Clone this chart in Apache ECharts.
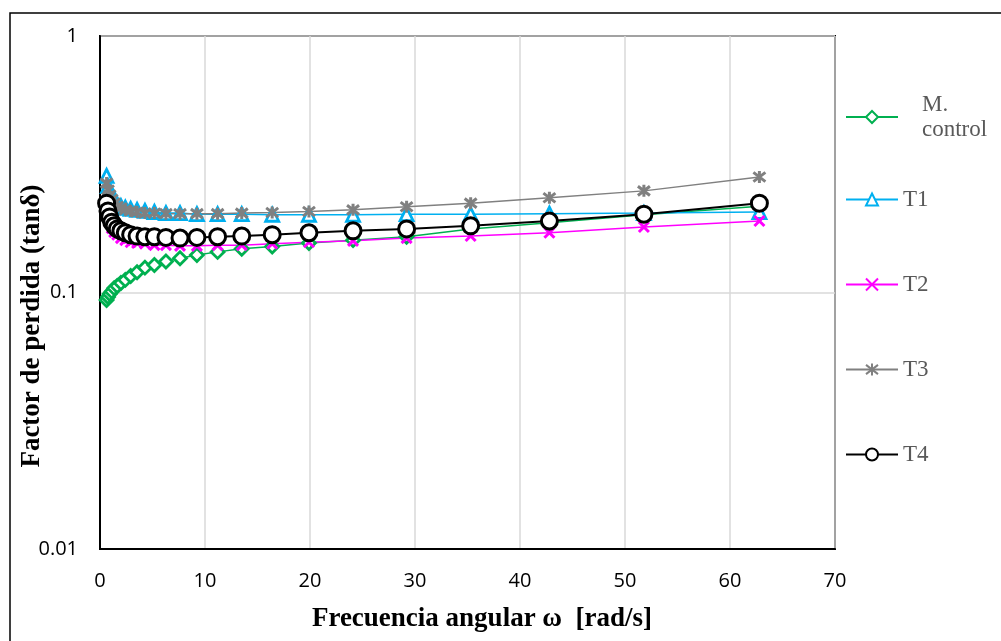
<!DOCTYPE html>
<html><head><meta charset="utf-8">
<script src="https://cdn.jsdelivr.net/npm/echarts@6/dist/echarts.min.js"></script>
<style>html,body{margin:0;padding:0;background:#fff}#c{width:1001px;height:641px}</style>
</head><body><div id="c"></div>
<script>
// angular frequency (rad/s)
const freq = [0.628, 0.762, 0.923, 1.12, 1.35, 1.64, 1.99, 2.41, 2.92, 3.53, 4.28, 5.18, 6.28, 7.62, 9.23, 11.2, 13.5, 16.4, 19.9, 24.1, 29.2, 35.3, 42.8, 51.8, 62.8];
const seriesNames = ['M. control', 'T1', 'T2', 'T3', 'T4'];
const mControl = [0.0935, 0.096, 0.0987, 0.101, 0.104, 0.106, 0.109, 0.112, 0.116, 0.120, 0.125, 0.128, 0.132, 0.136, 0.140, 0.144, 0.148, 0.151, 0.156, 0.160, 0.165, 0.177, 0.187, 0.201, 0.217];
const t1 = [0.285, 0.260, 0.247, 0.236, 0.227, 0.221, 0.217, 0.214, 0.212, 0.210, 0.208, 0.206, 0.204, 0.204, 0.202, 0.202, 0.202, 0.201, 0.201, 0.201, 0.202, 0.202, 0.203, 0.204, 0.206];
const t2 = [0.227, 0.202, 0.188, 0.178, 0.172, 0.168, 0.163, 0.160, 0.157, 0.156, 0.155, 0.153, 0.153, 0.152, 0.152, 0.153, 0.153, 0.155, 0.157, 0.159, 0.163, 0.166, 0.171, 0.180, 0.190];
const t3 = [0.267, 0.251, 0.240, 0.231, 0.223, 0.217, 0.214, 0.210, 0.208, 0.206, 0.204, 0.204, 0.203, 0.203, 0.203, 0.203, 0.204, 0.205, 0.207, 0.210, 0.216, 0.223, 0.234, 0.249, 0.282];
const t4 = [0.223, 0.208, 0.197, 0.188, 0.182, 0.177, 0.174, 0.171, 0.168, 0.166, 0.165, 0.165, 0.164, 0.163, 0.164, 0.165, 0.166, 0.168, 0.171, 0.174, 0.177, 0.182, 0.190, 0.202, 0.223];
const xTicks = [0, 10, 20, 30, 40, 50, 60, 70];
const yTicks = [0.01, 0.1, 1];

const pair = arr => freq.map((f, i) => [f, arr[i]]);
const X_PATH = 'path://M0,0L10,10M10,0L0,10';
const STAR_PATH = 'path://M0,0L10,10M10,0L0,10M5,-1.5L5,11.5';

function mk(name, data, color, symbol, size, lw, bw) {
  return {
    name, type: 'line', data: pair(data), showAllSymbol: true,
    symbol, symbolSize: size,
    lineStyle: { color, width: lw },
    itemStyle: { color: '#fff', borderColor: color, borderWidth: bw },
    emphasis: { disabled: true }, animation: false
  };
}

const chart = echarts.init(document.getElementById('c'));
chart.setOption({
  animation: false,
  backgroundColor: '#fff',
  grid: { left: 100, top: 36, right: 166, bottom: 92, show: true, borderColor: '#000', borderWidth: 2 },
  xAxis: {
    type: 'value', min: xTicks[0], max: xTicks[xTicks.length - 1], interval: 10,
    axisLine: { lineStyle: { color: '#000', width: 2 } },
    axisTick: { show: false },
    splitLine: { lineStyle: { color: '#d9d9d9', width: 1.5 } },
    axisLabel: { color: '#000', fontFamily: 'Open Sans', fontSize: 20, margin: 22 }
  },
  yAxis: {
    type: 'log', logBase: 10, min: yTicks[0], max: yTicks[yTicks.length - 1],
    axisLine: { show: true, lineStyle: { color: '#000', width: 2 } },
    axisTick: { show: false },
    minorTick: { show: false },
    splitLine: { lineStyle: { color: '#d9d9d9', width: 1.5 } },
    axisLabel: { color: '#000', fontFamily: 'Open Sans', fontSize: 20, margin: 22,
      formatter: v => String(+(+v).toPrecision(3)) }
  },
  legend: [
    { data: [seriesNames[0]], left: 845, top: 92, padding: 0, orient: 'vertical', itemWidth: 52, itemHeight: 15, itemGap: 5,
      textStyle: { fontFamily: 'Liberation Serif', fontSize: 23, color: '#595959', lineHeight: 25, padding: [0, 0, 0, 19] },
      formatter: n => 'M.\ncontrol' },
    { data: seriesNames.slice(1), left: 845, top: 188, padding: 0, orient: 'vertical', itemWidth: 52, itemHeight: 15, itemGap: 62,
      textStyle: { fontFamily: 'Liberation Serif', fontSize: 23, color: '#595959', lineHeight: 23 } }
  ],
  graphic: [
    { type: 'rect', shape: { x: 10, y: 13, width: 1000, height: 700 }, style: { fill: 'none', stroke: '#000', lineWidth: 1.5 }, z: 100 },
    { type: 'text', x: 32, y: 326, rotation: Math.PI / 2,
      style: { text: 'Factor de perdida (tanδ)', font: 'bold 27px "Liberation Serif"', fill: '#000', textAlign: 'center', textVerticalAlign: 'middle' } },
    { type: 'text', x: 482, y: 619,
      style: { text: 'Frecuencia angular ω  [rad/s]', font: 'bold 27px "Liberation Serif"', fill: '#000', textAlign: 'center', textVerticalAlign: 'middle' } }
  ],
  series: [
    mk(seriesNames[0], mControl, '#00B050', 'diamond', 13, 1.5, 2.8),
    mk(seriesNames[1], t1, '#00B0F0', 'triangle', 13, 1.5, 2.8),
    mk(seriesNames[2], t2, '#FF00FF', X_PATH, 10, 1.5, 3),
    mk(seriesNames[3], t3, '#808080', STAR_PATH, 12, 1.5, 3),
    mk(seriesNames[4], t4, '#000000', 'circle', 16, 2, 3)
  ]
});
</script>
</body></html>
